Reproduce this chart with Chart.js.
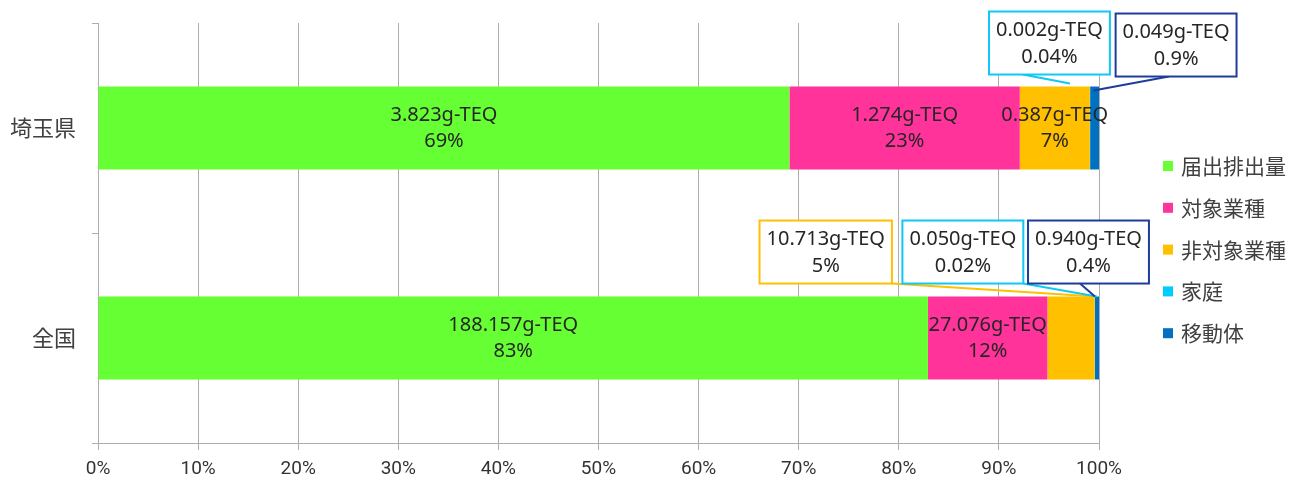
<!DOCTYPE html>
<html lang="ja">
<head>
<meta charset="utf-8">
<title>ダイオキシン類排出量の内訳</title>
<script src="https://cdn.jsdelivr.net/npm/chart.js@4"></script>
<style>
  html, body { margin: 0; padding: 0; background: #ffffff; }
  #wrap { width: 1312px; height: 482px; position: relative; }
</style>
</head>
<body>
<div id="wrap"><canvas id="chart" width="1312" height="482"></canvas></div>
<script>
// Regions (rows of the stacked bar)
const regions = ['埼玉県', '全国'];

// Emission sources (g-TEQ), one array per source, in region order
const sourceNames = ['届出排出量', '対象業種', '非対象業種', '家庭', '移動体'];
const notified    = [3.823, 188.157];
const targetInd   = [1.274, 27.076];
const nonTarget   = [0.387, 10.713];
const household   = [0.002, 0.050];
const vehicles    = [0.049, 0.940];

// Decimal places used when printing each source's share
const shareDecimals = [0, 0, 0, 2, 1];

// Percent axis ticks
const xTicks = [0, 10, 20, 30, 40, 50, 60, 70, 80, 90, 100];

const sourceValues = [notified, targetInd, nonTarget, household, vehicles];
const sourceColors = ['#66FF33', '#FF3399', '#FFC000', '#00CCFF', '#0070C0'];
const calloutBorders = ['#66FF33', '#FF3399', '#FFC000', '#11C8F5', '#1F3C9C'];

// Share of each source within its region, in percent
const totals = regions.map((_, r) => sourceValues.reduce((s, arr) => s + arr[r], 0));
const shares = sourceValues.map(arr => arr.map((v, r) => v / totals[r] * 100));

// Small segments labelled in boxed callouts above the bar.
// cx: box centre on the percent axis; gap: space between box and bar top;
// start: where along the box's bottom edge the leader starts (0..1);
// tipDx/tipDy: leader end offset from the segment's top centre.
const callouts = [
  { row: 0, series: 3, cx: 95.05, gap: 12, start: 0.28, tipDx: -20, tipDy: -3 },
  { row: 0, series: 4, cx: 107.7, gap: 10, start: 0.44, tipDx: -1,  tipDy: 4 },
  { row: 1, series: 2, cx: 72.7,  gap: 13, start: 1.0,  tipDx: 24,  tipDy: 0 },
  { row: 1, series: 3, cx: 86.4,  gap: 13, start: 1.0,  tipDx: 2,   tipDy: 0 },
  { row: 1, series: 4, cx: 98.95, gap: 13, start: 0.43, tipDx: -2,  tipDy: 0 }
];

const LABEL_FONT = '20px "Noto Sans", "Open Sans", sans-serif';
const TEXT_COLOR = '#262626';
const GRID_COLOR = '#ADADAD';

function labelLines(series, row) {
  const v = sourceValues[series][row].toFixed(3) + 'g-TEQ';
  const p = shares[series][row].toFixed(shareDecimals[series]) + '%';
  return [v, p];
}

const labelPlugin = {
  id: 'segmentLabels',
  afterDatasetsDraw(chart) {
    const ctx = chart.ctx;
    const xs = chart.scales.x;
    ctx.save();
    ctx.font = LABEL_FONT;
    ctx.textAlign = 'center';
    ctx.textBaseline = 'middle';
    ctx.fillStyle = TEXT_COLOR;
    const isCallout = (s, r) => callouts.some(c => c.series === s && c.row === r);

    // labels inside the bar segments
    chart.data.datasets.forEach((ds, s) => {
      const meta = chart.getDatasetMeta(s);
      meta.data.forEach((el, r) => {
        if (isCallout(s, r)) return;
        const cx = (el.x + el.base) / 2;
        const lines = labelLines(s, r);
        ctx.fillText(lines[0], cx, el.y - 13);
        ctx.fillText(lines[1], cx, el.y + 13);
      });
    });

    // boxed callouts with leader lines
    callouts.forEach(c => {
      const el = chart.getDatasetMeta(c.series).data[c.row];
      const lines = labelLines(c.series, c.row);
      const w = Math.max(ctx.measureText(lines[0]).width, ctx.measureText(lines[1]).width) + 14;
      const h = 63;
      const barTop = el.y - el.height / 2;
      const bx = xs.getPixelForValue(c.cx) - w / 2;
      const by = barTop - c.gap - h;
      const segX = (el.x + el.base) / 2;

      ctx.strokeStyle = calloutBorders[c.series];
      ctx.lineWidth = 2;
      ctx.beginPath();
      ctx.moveTo(bx + w * c.start, by + h);
      ctx.lineTo(segX + c.tipDx, barTop + c.tipDy);
      ctx.stroke();

      ctx.fillStyle = '#ffffff';
      ctx.fillRect(bx, by, w, h);
      ctx.strokeRect(bx, by, w, h);

      ctx.fillStyle = TEXT_COLOR;
      ctx.fillText(lines[0], bx + w / 2, by + h / 2 - 13);
      ctx.fillText(lines[1], bx + w / 2, by + h / 2 + 14);
    });
    ctx.restore();
  }
};

const legendPlugin = {
  id: 'sideLegend',
  afterDraw(chart) {
    const ctx = chart.ctx;
    const left = chart.chartArea.right + 64;
    const top = 166;
    const step = 41.8;
    ctx.save();
    ctx.font = '21px "Noto Sans CJK JP", sans-serif';
    ctx.textAlign = 'left';
    ctx.textBaseline = 'middle';
    chart.data.datasets.forEach((ds, i) => {
      const y = top + i * step;
      ctx.fillStyle = ds.backgroundColor;
      ctx.fillRect(left, y - 5, 10, 10);
      ctx.fillStyle = '#404040';
      ctx.fillText(ds.label, left + 18, y);
    });
    ctx.restore();
  }
};

new Chart(document.getElementById('chart'), {
  type: 'bar',
  data: {
    labels: regions,
    datasets: sourceNames.map((name, i) => ({
      label: name,
      data: shares[i],
      backgroundColor: sourceColors[i],
      borderWidth: 0,
      barPercentage: 0.395,
      categoryPercentage: 1.0
    }))
  },
  options: {
    indexAxis: 'y',
    responsive: false,
    animation: false,
    devicePixelRatio: 1,
    layout: { padding: { top: 23, right: 213, left: 0, bottom: 0 } },
    plugins: {
      legend: { display: false },
      tooltip: { enabled: false }
    },
    scales: {
      x: {
        stacked: true,
        min: 0,
        max: 100,
        afterBuildTicks(scale) { scale.ticks = xTicks.map(v => ({ value: v })); },
        afterFit(scale) { scale.height = 39; },
        ticks: {
          callback: v => v + '%',
          color: '#333333',
          font: { family: 'Roboto, "Noto Sans", sans-serif', size: 19 },
          padding: 8,
          maxRotation: 0
        },
        grid: { color: GRID_COLOR, lineWidth: 1, tickLength: 7, drawTicks: true },
        border: { color: GRID_COLOR, width: 1 }
      },
      y: {
        stacked: true,
        afterFit(scale) {
          scale.width = 98;
          // the category labels sit well inside the plot height, so no extra room is needed
          scale.paddingTop = 0;
          scale.paddingBottom = 0;
        },
        ticks: {
          color: '#404040',
          font: { family: '"Noto Sans CJK JP", sans-serif', size: 22 },
          padding: 16
        },
        grid: { offset: true, drawOnChartArea: false, color: GRID_COLOR, tickLength: 6 },
        border: { color: GRID_COLOR, width: 1 }
      }
    }
  },
  plugins: [labelPlugin, legendPlugin]
});
</script>
</body>
</html>
